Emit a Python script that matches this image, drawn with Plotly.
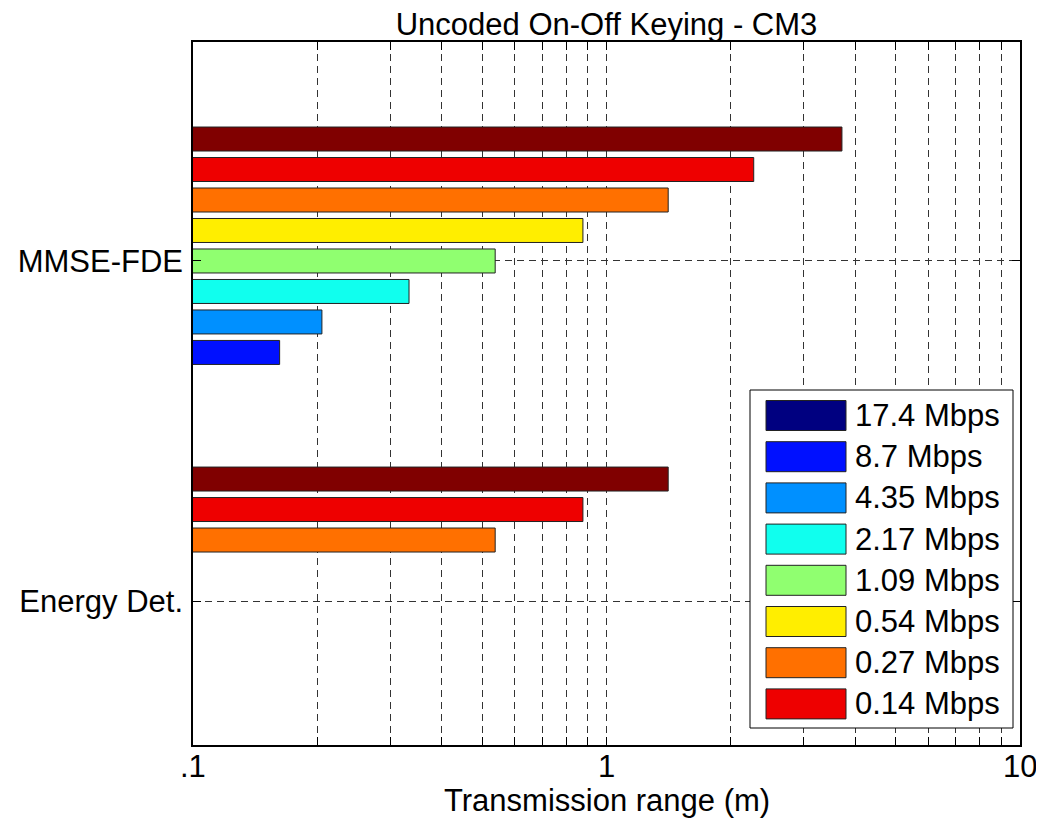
import math
import plotly.graph_objects as go

# ---------------- data ----------------
categories = ["Energy Det.", "MMSE-FDE"]
category_pos = [0, 1]

series_names = ["17.4 Mbps", "8.7 Mbps", "4.35 Mbps", "2.17 Mbps", "1.09 Mbps",
                "0.54 Mbps", "0.27 Mbps", "0.14 Mbps", "0.07 Mbps"]
series_colors = ["#000080", "#0010FF", "#0090FF", "#10FFEE", "#90FF70",
                 "#FFEE00", "#FF7000", "#EE0000", "#800000"]

# transmission range (m) for [Energy Det., MMSE-FDE]
range_17_4 = [None, None]
range_8_7 = [None, 0.162]
range_4_35 = [None, 0.205]
range_2_17 = [None, 0.333]
range_1_09 = [None, 0.538]
range_0_54 = [None, 0.877]
range_0_27 = [0.538, 1.41]
range_0_14 = [0.877, 2.27]
range_0_07 = [1.41, 3.71]
series_values = [range_17_4, range_8_7, range_4_35, range_2_17, range_1_09,
                 range_0_54, range_0_27, range_0_14, range_0_07]
legend_count = 8  # the last series is not in the legend box

x_tickvals = [0.1, 1, 10]
x_ticktext = [".1", "1", "10"]
x_minor = [0.2, 0.3, 0.4, 0.5, 0.6, 0.7, 0.8, 0.9, 2, 3, 4, 5, 6, 7, 8, 9]

# ---------------- figure ----------------
FONT = "Liberation Sans, Arial, Helvetica, sans-serif"
FS = 31
OFF = 8  # page body margin
W, H = 1044 - OFF, 822 - OFF
ML, MR, MT, MB = 193 - OFF, 24, 42 - OFF, 77
PW, PH = W - ML - MR, H - MT - MB

fig = go.Figure()
for name, color, vals in zip(series_names, series_colors, series_values):
    fig.add_trace(go.Bar(
        x=vals, y=category_pos, orientation="h", name=name,
        marker=dict(color=color, line=dict(color="#222", width=1)),
        showlegend=False,
    ))

grid_dash = "7px,5px"
fig.update_layout(
    width=W, height=H,
    margin=dict(l=ML, r=MR, t=MT, b=MB, autoexpand=False),
    paper_bgcolor="white", plot_bgcolor="white",
    font=dict(family=FONT, size=FS, color="black"),
    barmode="group", bargap=0.193, bargroupgap=0.213,
    title=dict(text="Uncoded On-Off Keying - CM3", x=0.5, xref="paper",
               y=1 - (24 - OFF) / H, yref="container", yanchor="middle",
               font=dict(size=FS, family=FONT), automargin=False),
    xaxis=dict(
        type="log", range=[-1, 1], automargin=False,
        tickvals=x_tickvals, showticklabels=False,
        ticks="inside", ticklen=8, tickcolor="black", tickwidth=1,
        showline=True, linecolor="black", linewidth=1.5, mirror="ticks",
        showgrid=True, gridcolor="#333", gridwidth=1, griddash=grid_dash,
        minor=dict(tickvals=x_minor, ticks="inside", ticklen=8, tickcolor="black",
                   showgrid=True, gridcolor="#333", gridwidth=1, griddash=grid_dash),
        zeroline=False,
    ),
    yaxis=dict(
        range=[-0.4235, 1.644], automargin=False,
        tickvals=category_pos, ticktext=categories, tickfont=dict(size=FS),
        ticks="inside", ticklen=8, tickcolor="black",
        showline=True, linecolor="black", linewidth=1.5, mirror="ticks",
        showgrid=True, gridcolor="#333", gridwidth=1, griddash=grid_dash,
        zeroline=False, ticklabelstandoff=2,
    ),
)

# x tick labels and axis title as text placed under the axis
for v, t in zip(x_tickvals, x_ticktext):
    fig.add_annotation(text=t, x=math.log10(v), xref="x", y=0, yref="paper",
                       xanchor="center", yanchor="top", yshift=-2, showarrow=False,
                       font=dict(size=FS, family=FONT))
fig.add_annotation(text="Transmission range (m)", x=0.5, xref="paper", y=0, yref="paper",
                   xanchor="center", yanchor="middle", yshift=-55, showarrow=False,
                   font=dict(size=FS, family=FONT))

# ---------------- legend box (drawn in paper coords) ----------------
def px_x(p):
    return (p - OFF - ML) / PW

def px_y(p):
    return (H + OFF - MB - p) / PH

box_l, box_r, box_t, box_b = 750, 1013, 390, 728
fig.add_shape(type="rect", xref="paper", yref="paper",
              x0=px_x(box_l), x1=px_x(box_r), y0=px_y(box_b), y1=px_y(box_t),
              line=dict(color="black", width=1), fillcolor="white", layer="above")
row0, row_step = 415.5, 41.2
for i in range(legend_count):
    cy = row0 + i * row_step
    fig.add_shape(type="rect", xref="paper", yref="paper",
                  x0=px_x(766), x1=px_x(846), y0=px_y(cy + 15), y1=px_y(cy - 15),
                  line=dict(color="#222", width=1), fillcolor=series_colors[i],
                  layer="above")
    fig.add_annotation(text=series_names[i], xref="paper", yref="paper",
                       x=px_x(853), y=px_y(cy), xanchor="left", yanchor="middle",
                       showarrow=False, font=dict(size=FS, family=FONT))

fig.write_html("out.html")
